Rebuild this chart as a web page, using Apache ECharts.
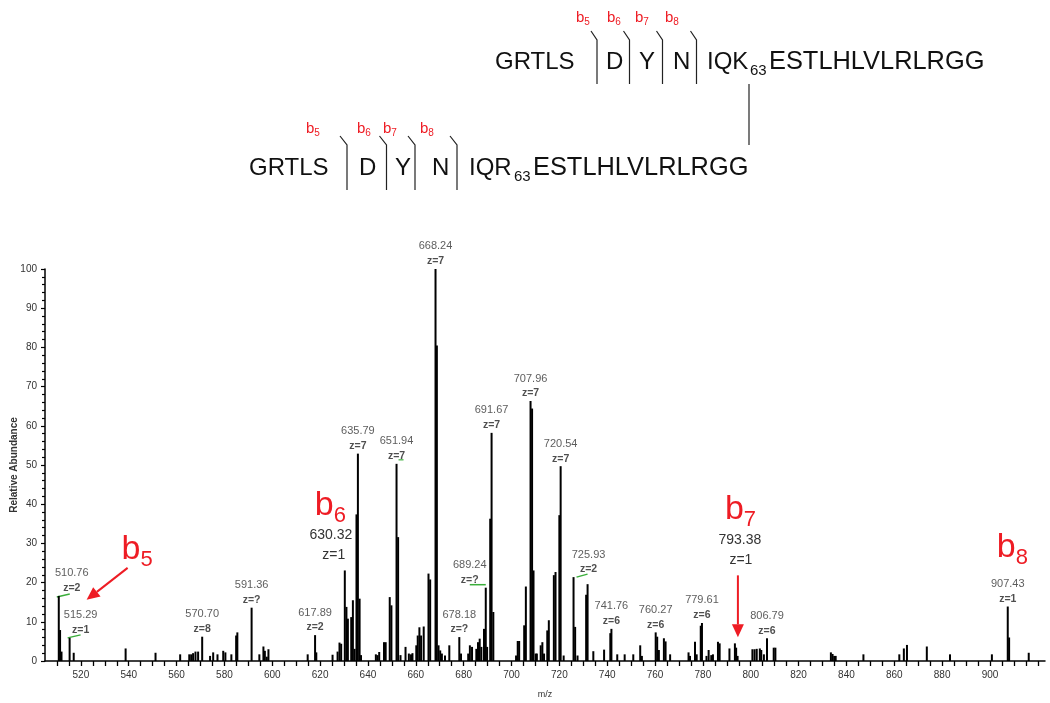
<!DOCTYPE html>
<html>
<head>
<meta charset="utf-8">
<script src="https://cdn.jsdelivr.net/npm/echarts@6/dist/echarts.min.js"></script>
<style>
html, body { margin: 0; background: #fff; }
#main { width: 1050px; height: 703px; }
</style>
</head>
<body>
<div id="main"></div>
<script>
// peaks (m/z, relative abundance)
var peakMz = [
  510.76, 511.3, 511.9, 515.29, 517.0, 538.7, 551.2, 561.5, 565.3, 566.1, 566.9, 567.9, 569.0, 570.70,
  574.0, 575.3, 577.1, 579.5, 580.4, 582.9, 584.9, 585.4, 591.36, 594.6, 596.3, 596.9, 597.7, 598.4,
  614.8, 617.89, 618.4, 625.2, 627.3, 628.1, 628.8, 630.32, 631.0, 631.6, 633.0, 633.7, 634.4, 635.2,
  635.79, 636.5, 637.1, 643.3, 644.0, 644.7, 646.7, 647.4, 649.1, 649.8, 651.94, 652.6, 653.6, 655.7,
  657.1, 658.0, 658.6, 660.2, 660.8, 661.5, 662.2, 663.3, 665.3, 666.0, 668.24, 668.8, 669.5, 670.2,
  670.9, 672.2, 674.0, 678.18, 678.9, 681.9, 682.6, 683.5, 685.3, 686.0, 686.7, 687.4, 688.5, 689.24,
  689.8, 691.1, 691.67, 692.4, 701.9, 702.6, 703.2, 705.3, 706.0, 707.96, 708.6, 709.2, 710.1, 710.6,
  712.2, 712.9, 713.6, 714.95, 715.6, 717.7, 718.4, 720.0, 720.54, 721.8, 725.93, 726.6, 727.6, 731.2,
  731.8, 734.2, 738.7, 741.3, 741.76, 744.2, 747.3, 750.9, 753.8, 754.5, 760.27, 760.9, 761.6, 763.7,
  764.4, 766.3, 774.0, 774.6, 776.7, 777.4, 779.1, 779.61, 781.5, 782.4, 783.5, 784.2, 786.3, 787.0,
  791.1, 793.38, 793.9, 794.5, 800.7, 801.6, 802.5, 803.8, 804.4, 805.5, 806.79, 809.6, 810.3, 833.5,
  834.2, 834.9, 835.5, 847.1, 862.1, 864.0, 865.3, 873.6, 883.3, 900.8, 907.43, 908.0, 916.2
];
var peakInt = [
  16.6, 7.9, 2.4, 5.9, 2.1, 3.2, 2.1, 1.7, 1.7, 1.7, 2.0, 2.4, 2.4, 6.2,
  1.3, 2.2, 1.7, 2.6, 2.2, 1.7, 6.5, 7.3, 13.6, 1.7, 3.7, 2.6, 1.1, 3.0,
  1.7, 6.6, 2.2, 1.6, 2.4, 4.7, 4.4, 23.1, 13.8, 10.8, 11.2, 15.5, 3.1, 37.4,
  52.9, 15.9, 1.5, 1.7, 1.5, 2.3, 4.8, 4.8, 16.3, 14.2, 50.3, 31.6, 1.5, 3.6,
  1.9, 1.7, 2.0, 4.0, 6.5, 8.6, 6.5, 8.8, 22.3, 20.8, 100, 80.5, 4.0, 2.7,
  1.9, 1.4, 4.0, 6.1, 1.9, 1.9, 4.0, 3.6, 3.1, 4.8, 5.7, 3.6, 8.2, 18.7,
  3.6, 36.3, 58.2, 12.5, 1.4, 5.1, 5.1, 9.1, 19.0, 66.3, 64.4, 23.1, 1.9, 1.9,
  4.0, 4.8, 1.9, 7.8, 10.4, 21.9, 22.7, 37.2, 49.7, 1.4, 21.4, 8.7, 1.4, 16.9,
  19.6, 2.5, 2.9, 7.1, 8.2, 1.7, 1.7, 1.7, 4.0, 1.3, 7.3, 6.2, 2.8, 5.8,
  5.0, 1.7, 2.2, 1.3, 4.9, 1.7, 9.0, 9.7, 1.3, 2.8, 1.5, 1.7, 4.9, 4.5,
  3.2, 4.5, 3.4, 1.3, 3.0, 3.0, 3.1, 3.2, 2.8, 1.7, 5.8, 3.4, 3.4, 2.2,
  1.8, 1.3, 1.3, 1.7, 1.7, 3.2, 4.1, 3.7, 1.7, 1.7, 13.9, 6.0, 2.1
];

// annotated peaks and their charge states
var labelMz = [510.76, 515.29, 570.70, 591.36, 617.89, 635.79, 651.94, 668.24, 678.18, 689.24,
               691.67, 707.96, 720.54, 725.93, 741.76, 760.27, 779.61, 806.79, 907.43];
var labelZ  = ['2', '1', '8', '?', '2', '7', '7', '7', '?', '?',
               '7', '7', '7', '2', '6', '6', '6', '6', '1'];

// b ions
var bIonMz   = [515.29, 630.32, 793.38, 907.43];
var bIonName = ['5', '6', '7', '8'];

// axis ticks
var xTicks = [520, 540, 560, 580, 600, 620, 640, 660, 680, 700, 720, 740, 760, 780, 800, 820, 840, 860, 880, 900];
var yTicks = [0, 10, 20, 30, 40, 50, 60, 70, 80, 90, 100];

var FONT = 'Liberation Sans, Arial, sans-serif';
var RED = '#ee1c24';
var GREEN = '#3aae3a';

function intensityOf(mz) {
    return peakInt[peakMz.indexOf(mz)];
}

// horizontal nudges for labels that sit beside their peak
var labelShift = { 510.76: 13, 515.29: 11, 689.24: -16, 725.93: 15 };

var myChart = echarts.init(document.getElementById('main'));

var option = {
    backgroundColor: '#fff',
    animation: false,
    grid: { left: 45, right: 5, top: 269, bottom: 42, outerBoundsMode: 'none', containLabel: false },
    xAxis: {
        type: 'value',
        min: 505,
        max: 923,
        interval: 5,
        name: 'm/z',
        nameLocation: 'middle',
        nameGap: 29,
        nameMoveOverlap: false,
        nameTextStyle: { fontSize: 9, color: '#333', fontFamily: FONT },
        axisLine: { lineStyle: { color: '#000', width: 1.5 } },
        axisTick: { show: true, length: 5, lineStyle: { color: '#000', width: 1.3 } },
        axisLabel: {
            fontSize: 10,
            color: '#333',
            fontFamily: FONT,
            margin: 9,
            showMinLabel: false,
            showMaxLabel: false,
            formatter: function (v) {
                return xTicks.indexOf(Math.round(v)) >= 0 ? String(Math.round(v)) : '';
            }
        },
        splitLine: { show: false }
    },
    yAxis: {
        type: 'value',
        min: 0,
        max: 100,
        interval: 10,
        name: 'Relative Abundance',
        nameLocation: 'middle',
        nameGap: 26,
        nameMoveOverlap: false,
        nameTextStyle: { fontSize: 10, fontWeight: 'bold', color: '#333', fontFamily: FONT },
        axisLine: { show: true, lineStyle: { color: '#000', width: 1.5 } },
        axisTick: { show: true, length: 4, lineStyle: { color: '#000', width: 1.2 } },
        minorTick: { show: true, splitNumber: 5, length: 3, lineStyle: { color: '#000', width: 1.2 } },
        axisLabel: {
            fontSize: 10, color: '#333', fontFamily: FONT, margin: 8,
            formatter: function (v) { return yTicks.indexOf(v) >= 0 ? String(v) : ''; }
        },
        splitLine: { show: false }
    },
    series: [
        {
            type: 'bar',
            barWidth: 2,
            silent: true,
            itemStyle: { color: '#000' },
            data: peakMz.map(function (m, i) { return [m, peakInt[i]]; })
        },
        {
            type: 'scatter',
            symbolSize: 0.1,
            silent: true,
            itemStyle: { color: 'rgba(0,0,0,0)' },
            label: {
                show: true,
                position: 'top',
                distance: 0,
                formatter: function (p) {
                    return '{m|' + p.value[0].toFixed(2) + '}\n{z|z=' + labelZ[p.dataIndex] + '}';
                },
                rich: {
                    m: { fontSize: 11, color: '#333', fontFamily: FONT, lineHeight: 15 },
                    z: { fontSize: 10.5, color: '#222', fontWeight: 'bold', fontFamily: FONT, lineHeight: 15 }
                }
            },
            data: labelMz.map(function (m) {
                return { value: [m, intensityOf(m)], label: { offset: [labelShift[m] || 0, 0] } };
            })
        }
    ]
};

myChart.setOption(option);

// ---- annotation helpers ----
function px(mz) {
    return myChart.convertToPixel({ gridIndex: 0 }, [mz, intensityOf(mz)]);
}

function bText(x, y, sub, size) {
    return {
        type: 'text', x: x, y: y, silent: true,
        style: {
            text: 'b{s|' + sub + '}',
            fontSize: size, fontFamily: FONT, fill: RED,
            verticalAlign: 'middle', lineHeight: Math.round(size * 1.25),
            rich: { s: { fontSize: Math.round(size * 0.65), fontFamily: FONT, fill: RED,
                         verticalAlign: 'bottom', lineHeight: Math.round(size * 0.65) } }
        }
    };
}

function plainText(x, y, text, size, color, align) {
    return {
        type: 'text', x: x, y: y, silent: true,
        style: { text: text, fontSize: size, fontFamily: FONT, fill: color,
                 align: align || 'center', verticalAlign: 'middle' }
    };
}

function seqText(x, y, text, size) {
    return {
        type: 'text', x: x, y: y, silent: true,
        style: { text: text, fontSize: size || 24, fontFamily: FONT, fill: '#111', verticalAlign: 'middle' }
    };
}

function line(x1, y1, x2, y2, color, w) {
    return { type: 'line', silent: true, shape: { x1: x1, y1: y1, x2: x2, y2: y2 },
             style: { stroke: color, lineWidth: w } };
}

function arrow(x1, y1, x2, y2) {
    var dx = x2 - x1, dy = y2 - y1, len = Math.sqrt(dx * dx + dy * dy);
    var ux = dx / len, uy = dy / len, hl = 13, hw = 6;
    var bx = x2 - ux * hl, by = y2 - uy * hl;
    return [
        line(x1, y1, bx, by, RED, 2),
        { type: 'polygon', silent: true,
          shape: { points: [[x2, y2], [bx - uy * hw, by + ux * hw], [bx + uy * hw, by - ux * hw]] },
          style: { fill: RED } }
    ];
}

function separator(x, yTop, yBottom, slant) {
    return { type: 'polyline', silent: true,
             shape: { points: [[x - slant, yTop - 9], [x, yTop], [x, yBottom]] },
             style: { stroke: '#222', lineWidth: 1.2, fill: null } };
}

var g = [];

// peptide diagram (top)
g.push(seqText(495, 62, 'GRTLS'));
g.push(seqText(606, 62, 'D'));
g.push(seqText(639, 62, 'Y'));
g.push(seqText(673, 62, 'N'));
g.push(seqText(707, 62, 'IQK'));
g.push(seqText(750, 71, '63', 15));
g.push(seqText(769, 62, 'ESTLHLVLRLRGG', 25.4));
[597, 629.5, 662.5, 696.5].forEach(function (x) { g.push(separator(x, 40, 84, 6)); });
[584, 615, 643, 673].forEach(function (x, i) { g.push(bText(x - 8, 18, bIonName[i], 15)); });
g.push(line(749, 84, 749, 145, '#222', 1.2));

// peptide diagram (bottom)
g.push(seqText(249, 168, 'GRTLS'));
g.push(seqText(359, 168, 'D'));
g.push(seqText(395, 168, 'Y'));
g.push(seqText(432, 168, 'N'));
g.push(seqText(469, 168, 'IQR'));
g.push(seqText(514, 177, '63', 15));
g.push(seqText(533, 168, 'ESTLHLVLRLRGG', 25.4));
[347, 386.5, 415, 457].forEach(function (x) { g.push(separator(x, 145, 190, 7)); });
[314, 365, 391, 428].forEach(function (x, i) { g.push(bText(x - 8, 129, bIonName[i], 15)); });

// b ion annotations inside the plot
var p5 = px(bIonMz[0]), p6 = px(bIonMz[1]), p7 = px(bIonMz[2]), p8 = px(bIonMz[3]);
g.push(bText(p5[0] + 52, p5[1] - 88, bIonName[0], 34));
arrow(p5[0] + 58, p5[1] - 70, p5[0] + 17, p5[1] - 38).forEach(function (e) { g.push(e); });

g.push(bText(p6[0] - 30, p6[1] - 65, bIonName[1], 34));
g.push(plainText(p6[0] - 14, p6[1] - 35, '630.32', 14, '#333'));
g.push(plainText(p6[0] - 11, p6[1] - 15, 'z=1', 14, '#333'));

g.push(bText(p7[0] - 10, p7[1] - 134, bIonName[2], 34));
g.push(plainText(p7[0] + 5, p7[1] - 103, '793.38', 14, '#333'));
g.push(plainText(p7[0] + 6, p7[1] - 83, 'z=1', 14, '#333'));
arrow(p7[0] + 3, p7[1] - 68, p7[0] + 3, p7[1] - 6).forEach(function (e) { g.push(e); });

g.push(bText(p8[0] - 11, p8[1] - 59, bIonName[3], 34));

// green charge-state underlines
var q;
q = px(510.76); g.push(line(q[0] - 2, q[1] + 1, q[0] + 11, q[1] - 2, GREEN, 1.5));
q = px(515.29); g.push(line(q[0] - 2, q[1], q[0] + 11, q[1] - 3, GREEN, 1.5));
q = px(651.94); g.push(line(q[0] + 2, q[1] - 4, q[0] + 7, q[1] - 4, GREEN, 1.2));
q = px(689.24); g.push(line(q[0] - 16, q[1] - 3, q[0], q[1] - 3, GREEN, 1.5));
q = px(725.93); g.push(line(q[0] + 3, q[1], q[0] + 14, q[1] - 3, GREEN, 1.5));

myChart.setOption({ graphic: g });
</script>
</body>
</html>
